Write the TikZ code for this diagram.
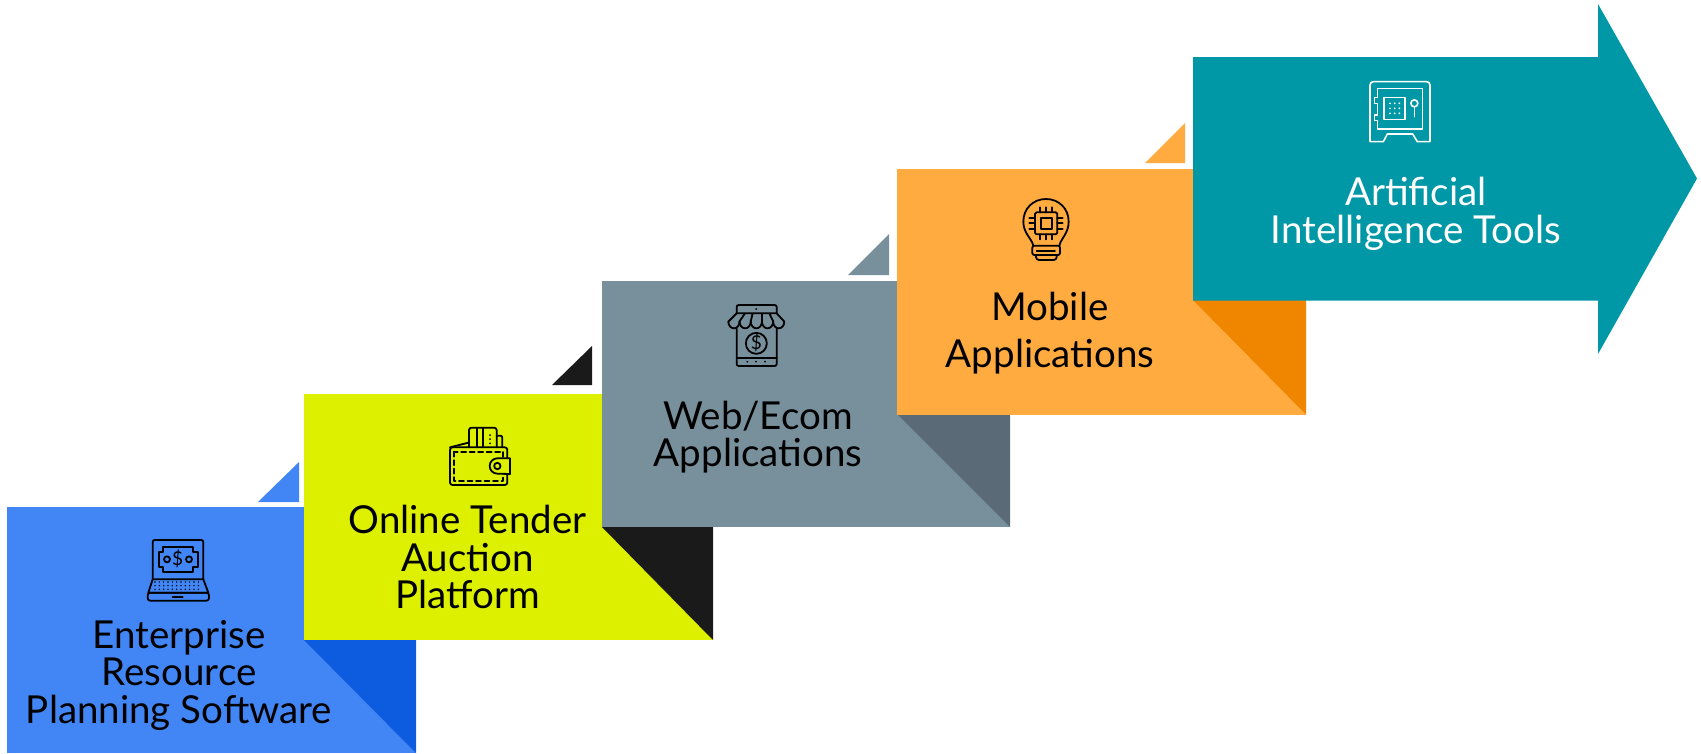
\documentclass[tikz,border=0pt]{standalone}
\usepackage{fontspec}
\setmainfont{Lato}
\definecolor{cblue}{HTML}{4285F4}
\definecolor{cbluedk}{HTML}{0D5CDF}
\definecolor{cyel}{HTML}{DCF000}
\definecolor{cblk}{HTML}{1A1A1A}
\definecolor{cgray}{HTML}{78909C}
\definecolor{cgraydk}{HTML}{5A6B77}
\definecolor{corg}{HTML}{FFAB40}
\definecolor{corgdk}{HTML}{F08500}
\definecolor{cteal}{HTML}{0097A7}
\tikzset{
  label text/.style={align=center,inner sep=0pt,font=\fontsize{38.5}{37.5}\selectfont},
  icon/.style={line width=1.8pt,line join=round,line cap=round},
  iconscale/.style={x=0.33333pt,y=-0.33333pt}
}
\begin{document}
\begin{tikzpicture}[x=1pt,y=-1pt]
\useasboundingbox (0,0) rectangle (1701,753);
% fold triangles and panels
\fill[cblue] (258,502) -- (299,462) -- (299,502) -- cycle;
\fill[cblue] (7,507) rectangle (416,753);
\fill[cbluedk] (304,640) -- (416,753) -- (416,640) -- cycle;
\fill[cblk] (552,385) -- (592,346) -- (592,385) -- cycle;
\fill[cyel] (304,394) rectangle (713,640);
\fill[cblk] (602,527) -- (713,640) -- (713,527) -- cycle;
\fill[cgray] (848,275) -- (889,234) -- (889,275) -- cycle;
\fill[cgray] (602,281) rectangle (1010,527);
\fill[cgraydk] (897,414) -- (1010,527) -- (1010,414) -- cycle;
\fill[corg] (1145,163) -- (1185,123) -- (1185,163) -- cycle;
\fill[corg] (897,169) rectangle (1306,414.5);
\fill[corgdk] (1193,300) -- (1306,414.5) -- (1306,300) -- cycle;
\fill[cteal] (1193,57) -- (1598,57) -- (1598,4) -- (1697,178.5) -- (1598,354) -- (1598,300.5) -- (1193,300.5) -- cycle;
% labels
\node[label text] (erp) at (179,675) {Enterprise\\Resource\\Planning Software};
\node[label text] (tender) at (467.5,557) {Online Tender\\Auction\\Platform};
\node[label text] (web) at (758,437) {Web/Ecom\\Applications};
\node[label text,font=\fontsize{38.5}{47}\selectfont] (mobile) at (1050,333.5) {Mobile\\Applications};
\node[label text,text=white] (ai) at (1416,214) {Artificial\\Intelligence Tools};
% laptop icon
\begin{scope}[shift={(130,520)},iconscale,icon]
\draw[rounded corners=2pt] (68,178) -- (68,60) -- (220,60) -- (220,178);
\draw (100,80) -- (188,80) -- (188,95) -- (203,95) -- (203,140) -- (188,140) -- (188,155) -- (100,155) -- (100,140) -- (87,140) -- (87,95) -- (100,95) -- cycle;
\draw (111,118) circle[radius=3pt] (177,118) circle[radius=3pt];
\node[inner sep=0pt,font=\fontsize{19}{19}\selectfont] (lapdollar) at (143,118) {\$};
\draw (68,178) -- (220,178) -- (235,218) -- (55,218) -- cycle;
\foreach \r in {186,197,208} \foreach \c in {75,88,...,215} \fill (\c,\r) circle[radius=0.8pt];
\draw[rounded corners=2.5pt] (53,218) rectangle (237,242);
\draw (128,230) -- (158,230);
\end{scope}
% wallet icon
\begin{scope}[shift={(430,415)},iconscale,icon]
\draw[rounded corners=2.5pt] (60,210) rectangle (232,97);
\draw (60,97) -- (115,83);
\draw[rounded corners=2.5pt] (117,97) -- (117,38) -- (200,38) -- (200,97);
\draw (140,38) -- (140,97) (160,38) -- (160,97);
\foreach \r in {60,72,85} \fill (180,\r) circle[radius=1pt];
\draw[rounded corners=2pt] (200,62) -- (217,62) -- (217,97);
\draw[dash pattern=on 5pt off 3.5pt] (72,110) rectangle (220,197);
\draw[fill=cyel] (240,130) -- (202,130) arc[start angle=90,end angle=270,x radius=23,y radius=-23] -- (240,177) -- cycle;
\draw (202,153) circle[radius=3.2pt];
\end{scope}
% shop icon
\begin{scope}[shift={(700,280)},iconscale,icon]
\draw[rounded corners=2pt] (110,100) -- (110,75) -- (230,75) -- (230,100);
\fill (168,87) circle[radius=1pt];
\draw (110,100) -- (230,100) (110,100) -- (85,125) (230,100) -- (253,125)
      (135,100) -- (118,125) (158,100) -- (152,125) (186,100) -- (186,125) (208,100) -- (220,125);
\foreach \a in {85,118.6,152.2,185.8,219.4}
  \draw (\a,125) arc[start angle=180,end angle=360,x radius=16.8,y radius=-20];
\draw[rounded corners=2pt] (110,146) -- (110,258) -- (230,258) -- (230,146);
\draw (110,233) -- (230,233);
\foreach \c in {142,168,195} \fill (\c,245) circle[radius=1pt];
\draw (169,190) circle[radius=10.5pt];
\node[inner sep=0pt,font=\fontsize{19}{19}\selectfont] (shopdollar) at (169,190) {\$};
\end{scope}
% bulb icon
\begin{scope}[shift={(1000,180)},iconscale,icon]
\draw (100,197) .. controls (95,175) and (70,160) .. (70,125) .. controls (70,85) and (100,57) .. (138,57) .. controls (176,57) and (206,85) .. (206,125) .. controls (206,160) and (183,175) .. (178,197);
\draw[rounded corners=2pt] (97,197) rectangle (180,225);
\draw (110,212) -- (165,212);
\draw[rounded corners=3pt] (108,225) -- (108,240) -- (170,240) -- (170,225);
\draw[rounded corners=1.5pt] (105,97) rectangle (172,163);
\draw (122,113) rectangle (155,147);
\foreach \c in {120,138,155} \draw (\c,82) -- (\c,97) (\c,163) -- (\c,178);
\foreach \r in {113,130,147} \draw (88,\r) -- (105,\r) (172,\r) -- (188,\r);
\end{scope}
% safe icon
\begin{scope}[shift={(1340,60)},iconscale,icon,draw=white,line width=1.6pt]
\draw (90,245) -- (90,75) arc[start angle=180,end angle=90,x radius=10,y radius=-10] -- (260,65) arc[start angle=90,end angle=0,x radius=10,y radius=-10] -- (270,245) -- (232,245) -- (218,222) -- (142,222) -- (130,245) -- cycle;
\draw (112,112) -- (112,85) -- (248,85) -- (248,207) -- (112,207) -- (112,182) -- (104,182) -- (104,165) -- (112,165) -- (112,130) -- (104,130) -- (104,112) -- cycle;
\draw (132,112) rectangle (195,178);
\foreach \r in {130,145,160} \foreach \c in {150,164,178} \fill[white] (\c,\r) circle[radius=1pt];
\draw (223,130) circle[radius=3.5pt];
\draw (223,140) -- (223,170);
\end{scope}
\end{tikzpicture}
\end{document}
